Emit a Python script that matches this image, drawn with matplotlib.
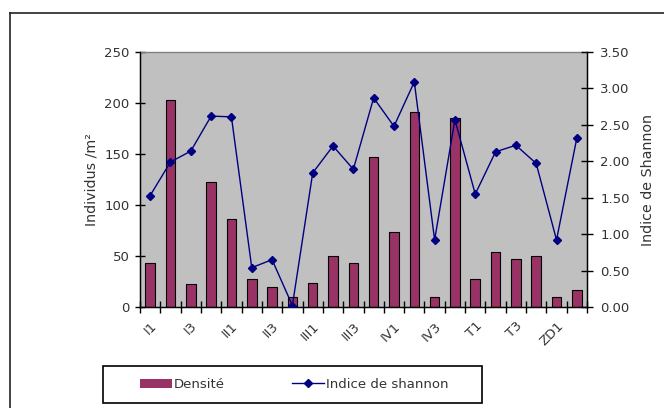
import matplotlib
matplotlib.use("Agg")
import matplotlib.pyplot as plt
import numpy as np
from matplotlib.patches import Rectangle, Patch
from matplotlib.lines import Line2D

plt.rcParams['font.family'] = ['DejaVu Sans']

categories = ["I1", "I2", "I3", "I4", "II1", "II2", "II3", "II4",
              "III1", "III2", "III3", "III4", "IV1", "IV2", "IV3", "IV4",
              "T1", "T2", "T3", "T4", "ZD1", "ZD2"]
densite = [43, 203, 23, 123, 86, 27, 20, 10, 24, 50, 43, 147,
           74, 191, 10, 185, 27, 54, 47, 50, 10, 17]
shannon = [1.53, 1.99, 2.14, 2.62, 2.61, 0.54, 0.65, 0.02, 1.84, 2.21, 1.89, 2.87,
           2.48, 3.09, 0.92, 2.57, 1.55, 2.13, 2.22, 1.97, 0.92, 2.32]
left_ticks = [0, 50, 100, 150, 200, 250]
right_ticks = [0, 0.5, 1.0, 1.5, 2.0, 2.5, 3.0, 3.5]

FS = 9.5
LFS = 10.3
TXT = '#333333'
W, H = 664, 408
fig = plt.figure(figsize=(W / 100, H / 100), dpi=100)

def fx(px):
    return px / W

def fy(py):
    return 1 - py / H

x0, x1, y0, y1 = 140, 587, 52, 307
ax = fig.add_axes([fx(x0), fy(y1), fx(x1 - x0), (y1 - y0) / H])
ax.set_facecolor('#C0C0C0')

n = len(categories)
x = np.arange(n)
bar_color = '#993366'
line_color = '#000080'
ax.bar(x, densite, width=0.47, color=bar_color, edgecolor='black', linewidth=0.8, zorder=2)
ax.set_xlim(-0.5, n - 0.5)
ax.set_ylim(0, 250)
ax.set_yticks(left_ticks)
ax.set_yticklabels([str(v) for v in left_ticks], fontsize=FS, color=TXT)
ax.tick_params(axis='y', direction='inout', length=7, width=1, pad=4)

# category boundaries as major ticks, labels at every other category centre
ax.set_xticks(np.arange(-0.5, n, 1.0))
ax.set_xticklabels([])
ax.tick_params(axis='x', which='major', direction='inout', length=9, width=1)
label_pos = x[::2]
ax.set_xticks(label_pos, minor=True)
ax.set_xticklabels([categories[i] for i in label_pos], minor=True, rotation=45,
                   ha='right', rotation_mode='anchor', fontsize=FS, color=TXT)
ax.tick_params(axis='x', which='minor', length=0, pad=9)

for s in ['left', 'bottom', 'right']:
    ax.spines[s].set_color('black')
    ax.spines[s].set_linewidth(1)
ax.spines['top'].set_color('#808080')
ax.spines['top'].set_linewidth(1)
ax.set_ylabel('Individus /m²', fontsize=LFS, color=TXT, labelpad=4)

ax2 = ax.twinx()
ax2.plot(x, shannon, color=line_color, linewidth=1,
         marker='D', markersize=4.5, markerfacecolor=line_color,
         markeredgecolor=line_color, zorder=3)
ax2.set_ylim(0, 3.5)
ax2.set_yticks(right_ticks)
ax2.set_yticklabels([f"{v:.2f}" for v in right_ticks], fontsize=FS, color=TXT)
ax2.tick_params(axis='y', direction='inout', length=9, width=1, pad=5)
ax2.spines['right'].set_color('black')
ax2.spines['top'].set_visible(False)
ax2.set_ylabel('Indice de Shannon', fontsize=LFS, color=TXT, labelpad=8)

# outer chart border (top and left)
fig.add_artist(Line2D([fx(10), 1.0], [fy(12.5), fy(12.5)], color='#222222', linewidth=1.2))
fig.add_artist(Line2D([fx(10), fx(10)], [fy(12.5), 0.0], color='#222222', linewidth=1.2))

# legend
lx0, lx1, ly0, ly1 = 103, 482, 366, 403
fig.add_artist(Rectangle((fx(lx0), fy(ly1)), fx(lx1 - lx0), (ly1 - ly0) / H,
                         fill=False, edgecolor='black', linewidth=1.2))
handles = [Patch(facecolor=bar_color, edgecolor='none'),
           Line2D([], [], color=line_color, marker='D', markersize=4, linewidth=1)]
leg = fig.legend(handles, ['Densité', 'Indice de shannon'], loc='center',
                 bbox_to_anchor=(fx(294.5), fy((ly0 + ly1) / 2)),
                 ncol=2, frameon=False, fontsize=FS, handlelength=2.4,
                 handletextpad=0.15, columnspacing=5.1, handleheight=0.7)
for t in leg.get_texts():
    t.set_color(TXT)

fig.savefig('out.png', dpi=100)
